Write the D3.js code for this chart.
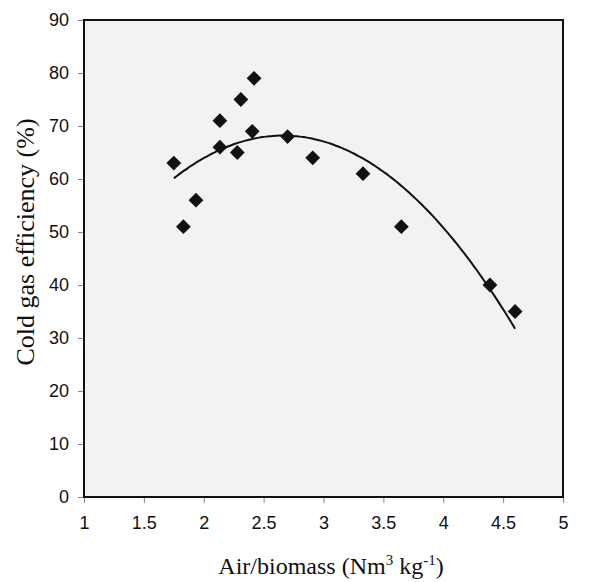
<!DOCTYPE html>
<html>
<head>
<meta charset="utf-8">
<script src="https://cdn.jsdelivr.net/npm/d3@7"></script>
<style>
  html, body { margin: 0; padding: 0; background: #fff; }
  svg { display: block; }
</style>
</head>
<body>
<script>
// Air/biomass ratio (Nm3/kg) and measured cold gas efficiency (%)
const airBiomass = [1.75, 1.83, 1.935, 2.135, 2.135, 2.28, 2.31, 2.405, 2.42, 2.70, 2.91, 3.33, 3.65, 4.39, 4.60];
const efficiency = [63, 51, 56, 66, 71, 65, 75, 69, 79, 68, 64, 61, 51, 40, 35];
const xTicks = [1, 1.5, 2, 2.5, 3, 3.5, 4, 4.5, 5];
const yTicks = [0, 10, 20, 30, 40, 50, 60, 70, 80, 90];

const W = 601, H = 582;
const margin = { left: 84, right: 38, top: 20, bottom: 85 };

const svg = d3.select("body").append("svg").attr("width", W).attr("height", H);

const x = d3.scaleLinear().domain([1, 5]).range([margin.left, W - margin.right]);
const y = d3.scaleLinear().domain([0, 90]).range([H - margin.bottom, margin.top]);

// plot area background
svg.append("rect")
  .attr("x", x(1)).attr("y", y(90))
  .attr("width", x(5) - x(1)).attr("height", y(0) - y(90))
  .attr("fill", "#f2f2f2");

// axes
const xAxis = svg.append("g")
  .attr("transform", `translate(0,${y(0)})`)
  .call(d3.axisBottom(x).tickValues(xTicks).tickSize(6).tickPadding(13).tickFormat(d3.format("")));
const yAxis = svg.append("g")
  .attr("transform", `translate(${x(1)},0)`)
  .call(d3.axisLeft(y).tickValues(yTicks).tickSize(6).tickPadding(9));

[xAxis, yAxis].forEach(g => {
  g.select(".domain").remove();
  g.selectAll(".tick line").attr("stroke", "#888").attr("stroke-width", 1);
  g.selectAll(".tick text")
    .attr("fill", "#111")
    .style("font-family", "'Liberation Sans', Arial, sans-serif")
    .style("font-size", "18px");
});

// frame
svg.append("rect")
  .attr("x", x(1)).attr("y", y(90))
  .attr("width", x(5) - x(1)).attr("height", y(0) - y(90))
  .attr("fill", "none").attr("stroke", "#111").attr("stroke-width", 2);

// second-order polynomial trend line (least squares)
function quadFit(xs, ys) {
  const n = xs.length;
  let s = [0, 0, 0, 0, 0], t = [0, 0, 0];
  for (let i = 0; i < n; i++) {
    let p = 1;
    for (let k = 0; k <= 4; k++) { s[k] += p; if (k <= 2) t[k] += p * ys[i]; p *= xs[i]; }
  }
  const A = [[s[0], s[1], s[2], t[0]], [s[1], s[2], s[3], t[1]], [s[2], s[3], s[4], t[2]]];
  for (let i = 0; i < 3; i++) {
    for (let j = i + 1; j < 3; j++) {
      const f = A[j][i] / A[i][i];
      for (let k = i; k < 4; k++) A[j][k] -= f * A[i][k];
    }
  }
  const c = [0, 0, 0];
  for (let i = 2; i >= 0; i--) {
    let v = A[i][3];
    for (let k = i + 1; k < 3; k++) v -= A[i][k] * c[k];
    c[i] = v / A[i][i];
  }
  return c;
}
const coef = quadFit(airBiomass, efficiency);
const xMin = d3.min(airBiomass), xMax = d3.max(airBiomass);
const trend = d3.range(0, 101).map(i => {
  const xv = xMin + (xMax - xMin) * i / 100;
  return [xv, coef[0] + coef[1] * xv + coef[2] * xv * xv];
});
svg.append("path")
  .datum(trend)
  .attr("fill", "none").attr("stroke", "#111").attr("stroke-width", 2)
  .attr("d", d3.line().x(d => x(d[0])).y(d => y(d[1])).curve(d3.curveBasis));

// measured points
svg.append("g").selectAll("path")
  .data(airBiomass.map((d, i) => [d, efficiency[i]]))
  .join("path")
  .attr("d", d3.symbol(d3.symbolSquare, 110))
  .attr("transform", d => `translate(${x(d[0])},${y(d[1])}) rotate(45)`)
  .attr("fill", "#111");

// axis titles
const xTitle = svg.append("text")
  .attr("x", 331).attr("y", 574)
  .attr("text-anchor", "middle")
  .style("font-family", "'Liberation Serif', 'Times New Roman', serif")
  .style("font-size", "24px")
  .attr("fill", "#111");
xTitle.append("tspan").text("Air/biomass (Nm");
xTitle.append("tspan").attr("dy", -9).style("font-size", "15px").text("3");
xTitle.append("tspan").attr("dy", 9).text(" kg");
xTitle.append("tspan").attr("dy", -9).style("font-size", "15px").text("-1");
xTitle.append("tspan").attr("dy", 9).text(")");

svg.append("text")
  .attr("transform", "translate(34,242) rotate(-90)")
  .attr("text-anchor", "middle")
  .style("font-family", "'Liberation Serif', 'Times New Roman', serif")
  .style("font-size", "26px")
  .attr("fill", "#111")
  .text("Cold gas efficiency (%)");
</script>
</body>
</html>
